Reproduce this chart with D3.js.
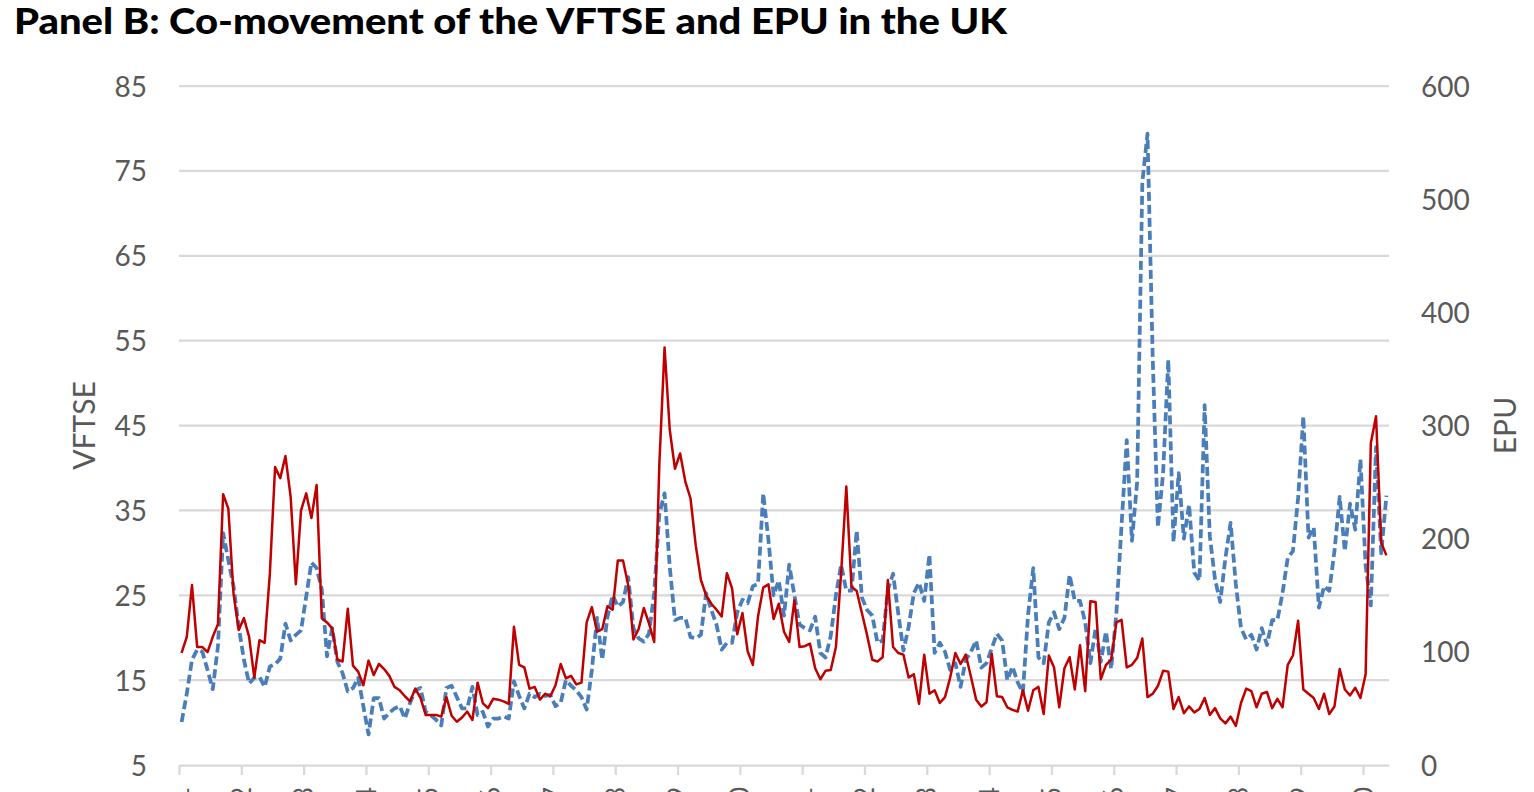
<!DOCTYPE html>
<html><head><meta charset="utf-8">
<script src="https://cdn.jsdelivr.net/npm/d3@7"></script>
<style>
html,body{margin:0;padding:0;background:#fff;overflow:hidden;}
svg{display:block;font-family:Lato,"Open Sans",sans-serif;}
</style></head>
<body>
<svg id="chart" width="1534" height="792"></svg>
<script>
// ---- data ----
const title = "Panel B: Co-movement of the VFTSE and EPU in the UK";
const yearLabels = ["2001","2002","2003","2004","2005","2006","2007","2008","2009","2010",
  "2011","2012","2013","2014","2015","2016","2017","2018","2019","2020"];
const leftTicks = [5,15,25,35,45,55,65,75,85];
const rightTicks = [0,100,200,300,400,500,600];
// monthly, Jan 2001 - May 2020
const vftse = [
 18.2,20.1,26.2,18.9,18.9,18.3,20.1,21.6,36.9,35.2,25.2,20.9,
 22.3,20.1,15.3,19.7,19.4,27.6,40.1,38.8,41.4,36.6,26.3,35.0,
 37.0,34.1,38.0,22.3,21.8,21.1,17.4,17.2,23.4,16.7,16.0,14.4,
 17.3,15.6,16.9,16.3,15.5,14.2,13.8,13.1,12.5,14.0,12.9,10.9,
 10.9,10.9,10.7,13.0,10.8,10.1,10.6,11.3,10.3,14.7,12.3,11.7,
 12.8,12.7,12.5,12.2,21.3,16.8,16.5,14.0,14.2,12.7,13.4,13.1,
 14.4,16.9,15.2,15.5,14.5,14.7,21.8,23.6,20.7,21.0,23.7,23.3,
 29.1,29.1,26.2,19.8,21.0,23.5,21.7,19.5,40.5,54.2,44.5,39.9,
 41.7,38.4,36.4,30.9,26.8,25.0,24.0,23.3,22.5,27.6,25.8,20.4,
 22.9,18.4,16.8,22.5,25.9,26.3,22.2,24.0,20.7,19.5,24.4,18.9,
 19.0,19.3,16.4,15.1,16.1,16.2,18.9,27.6,37.8,26.0,25.5,22.9,
 20.3,17.4,17.2,17.7,26.8,18.9,18.2,18.0,15.3,15.7,12.2,18.0,
 13.4,13.8,12.3,13.0,15.3,18.2,16.9,18.0,15.4,12.7,11.9,12.4,
 18.1,13.1,13.0,11.8,11.5,11.3,13.8,11.4,13.8,14.2,11.0,17.9,
 16.5,11.8,16.4,17.7,13.9,19.1,13.7,24.3,24.2,15.1,16.8,17.4,
 21.8,22.1,16.5,16.8,17.6,19.9,13.0,13.4,14.3,16.1,16.0,11.6,
 13.0,11.1,11.9,11.2,11.6,12.9,10.9,11.7,10.5,9.9,10.7,9.6,
 12.3,14.0,13.7,11.8,13.4,13.6,11.7,12.8,11.8,16.8,17.9,22.0,
 13.9,13.4,12.9,11.6,13.4,11.0,11.9,16.3,13.9,13.2,14.1,12.9,
 15.7,42.9,46.1,31.2,29.7
];
const epu = [
 38,63,93,102,100,84,67,105,205,181,158,122,
 93,72,77,78,69,87,89,94,125,110,115,119,
 149,179,174,155,96,121,91,81,65,68,77,52,
 27,59,59,41,46,50,52,41,55,66,68,47,
 44,40,35,68,70,60,50,50,69,44,47,34,
 41,41,43,41,74,61,50,63,60,63,61,62,
 52,55,75,70,66,60,49,84,130,93,131,150,
 140,144,166,121,112,109,116,152,222,240,175,128,
 130,130,113,112,115,152,137,124,102,108,108,135,
 146,143,158,160,240,199,150,163,132,177,150,124,
 121,119,131,99,95,114,150,177,154,154,207,148,
 137,132,108,110,155,169,134,101,122,152,161,145,
 186,99,108,100,84,90,69,93,100,110,86,90,
 103,116,110,75,87,73,64,133,174,95,90,126,
 135,120,130,168,145,145,126,90,121,91,118,85,
 134,212,287,198,250,515,558,360,210,258,358,197,
 258,200,230,170,163,318,202,164,144,183,214,160,
 121,111,115,102,121,106,128,128,152,183,189,236,
 308,201,210,139,158,154,189,237,189,231,208,270,
 176,141,281,187,238
];

// ---- layout ----
const W = 1534, H = 792;
const plot = {left: 179, right: 1389, top: 86, bottom: 765};
const textColor = "#595959", gridColor = "#d9d9d9";
const svg = d3.select("#chart");

const x = d3.scaleLinear().domain([0, vftse.length]).range([plot.left, plot.right]);
const yL = d3.scaleLinear().domain([5, 85]).range([plot.bottom, plot.top]);
const yR = d3.scaleLinear().domain([0, 600]).range([plot.bottom, plot.top]);

// title
svg.append("text").attr("x", 14).attr("y", 34)
  .attr("font-family", "Lato, 'Open Sans', sans-serif")
  .attr("font-weight", 900).attr("font-size", 36).attr("fill", "#000")
  .attr("textLength", 993).attr("lengthAdjust", "spacingAndGlyphs")
  .text(title);

// gridlines
svg.append("g").selectAll("line").data(leftTicks.slice(1)).join("line")
  .attr("x1", plot.left).attr("x2", plot.right)
  .attr("y1", d => yL(d)).attr("y2", d => yL(d))
  .attr("stroke", gridColor).attr("stroke-width", 2.25);

// x axis (labels run off the bottom edge, as in the reference)
const xAxis = d3.axisBottom(x)
  .tickValues(yearLabels.map((d, i) => i * 12))
  .tickFormat((d, i) => yearLabels[i])
  .tickSize(10).tickSizeOuter(0);
const gx = svg.append("g").attr("transform", `translate(0,${plot.bottom})`).call(xAxis);
gx.select(".domain").attr("stroke", gridColor).attr("stroke-width", 2.25);
gx.selectAll(".tick line").attr("stroke", gridColor).attr("stroke-width", 2.25);
gx.selectAll(".tick text")
  .attr("font-family", "Lato, sans-serif").attr("font-size", 26).attr("fill", textColor)
  .attr("transform", "rotate(-90)")
  .attr("text-anchor", "end").attr("x", -22).attr("y", 0).attr("dy", "0.35em");

// left axis
const gl = svg.append("g").attr("transform", `translate(${plot.left},0)`)
  .call(d3.axisLeft(yL).tickValues(leftTicks).tickSize(0).tickPadding(32));
gl.select(".domain").remove();
gl.selectAll(".tick text").attr("font-family", "Lato, sans-serif")
  .attr("font-size", 28).attr("fill", textColor).attr("dy", "0.36em");

// right axis
const gr = svg.append("g").attr("transform", `translate(${plot.right},0)`)
  .call(d3.axisRight(yR).tickValues(rightTicks).tickSize(0).tickPadding(32));
gr.select(".domain").remove();
gr.selectAll(".tick text").attr("font-family", "Lato, sans-serif")
  .attr("font-size", 28).attr("fill", textColor).attr("dy", "0.36em");

// axis titles
svg.append("text").attr("transform", `translate(95,${(plot.top + plot.bottom) / 2}) rotate(-90)`)
  .attr("text-anchor", "middle").attr("font-family", "Lato, sans-serif")
  .attr("font-size", 30).attr("fill", textColor).text("VFTSE");
svg.append("text").attr("transform", `translate(1516,${(plot.top + plot.bottom) / 2}) rotate(-90)`)
  .attr("text-anchor", "middle").attr("font-family", "Lato, sans-serif")
  .attr("font-size", 30).attr("fill", textColor).text("EPU");

// lines
const lineL = d3.line().x((d, i) => x(i + 0.5)).y(d => yL(d));
const lineR = d3.line().x((d, i) => x(i + 0.5)).y(d => yR(d));

svg.append("path").datum(epu).attr("d", lineR)
  .attr("fill", "none").attr("stroke", "#4a7ebb").attr("stroke-width", 3.75)
  .attr("stroke-dasharray", "9,4").attr("stroke-linejoin", "round");
svg.append("path").datum(vftse).attr("d", lineL)
  .attr("fill", "none").attr("stroke", "#c00000").attr("stroke-width", 2.5)
  .attr("stroke-linejoin", "round");
</script>
</body></html>
